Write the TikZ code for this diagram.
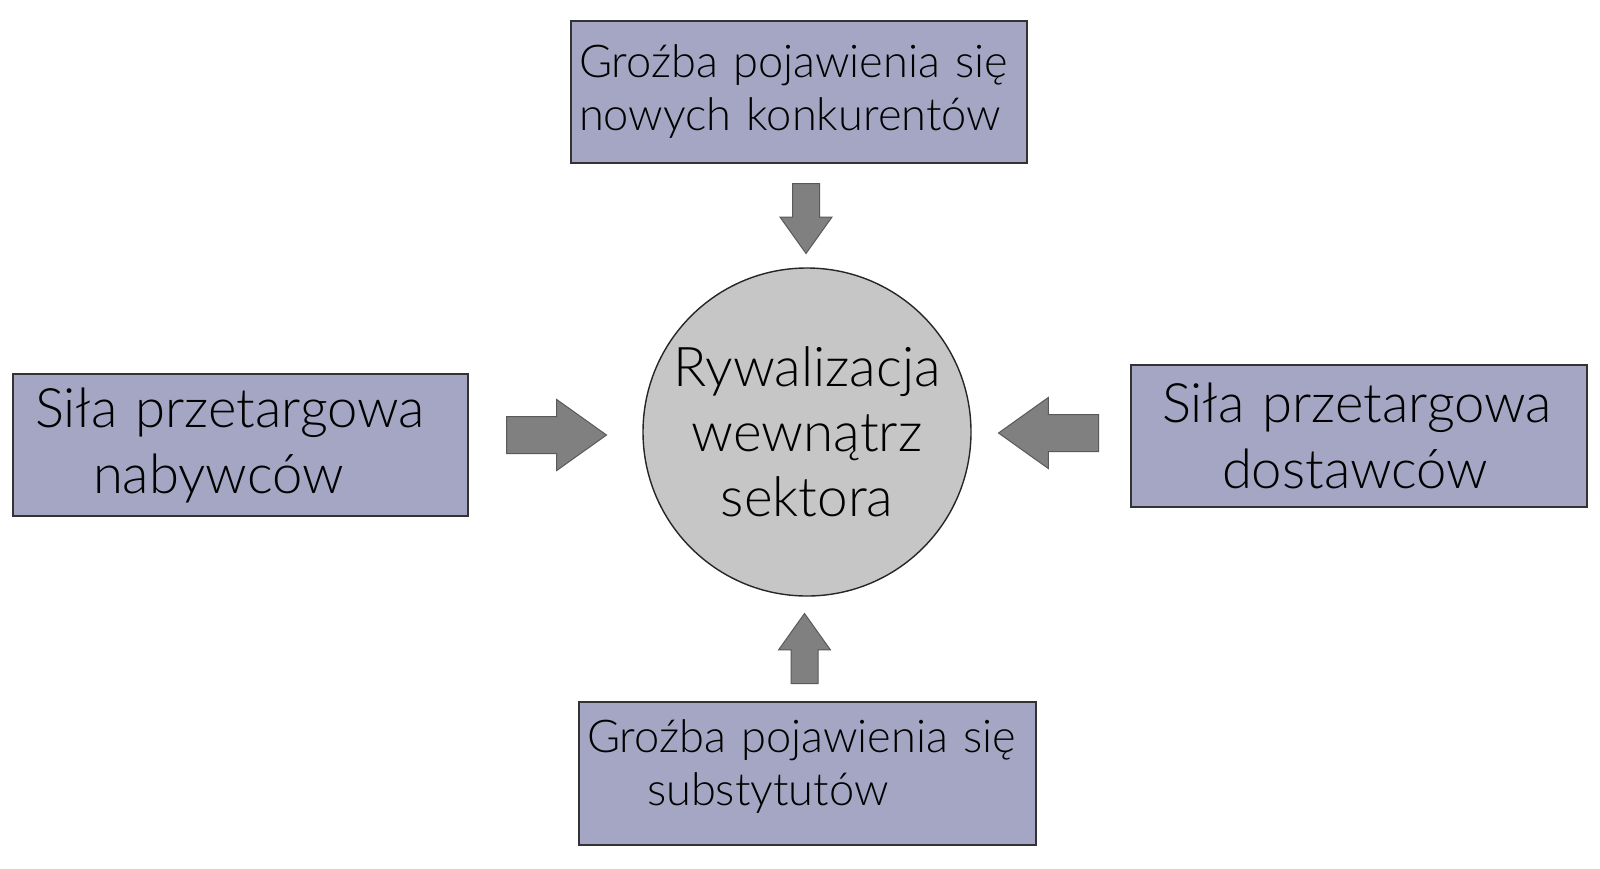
\documentclass[tikz,border=0pt]{standalone}
\usepackage{fontspec}
\setmainfont{Lato Light}
\usetikzlibrary{shapes.arrows}
\definecolor{boxgray}{RGB}{165,166,196}
\definecolor{hubgray}{RGB}{198,198,198}
\definecolor{arrgray}{RGB}{128,128,128}
\tikzstyle{force}=[rectangle, draw=black!80, fill=boxgray, line width=0.7pt, align=left, minimum height=71pt, inner ysep=0pt]
\tikzstyle{rival}=[circle, draw=black!85, fill=hubgray, line width=0.7pt, minimum size=164pt, inner sep=0pt, align=center]
\tikzstyle{push}=[single arrow, draw=black!65, fill=arrgray, line width=0.5pt, inner xsep=0pt, single arrow tip angle=71, single arrow head indent=0pt, anchor=tail]
\tikzstyle{hpush}=[push, minimum height=50pt, minimum width=35pt, inner ysep=9pt, single arrow head extend=8.5pt]
\tikzstyle{vpush}=[push, minimum height=35pt, minimum width=25.5pt, inner ysep=6.5pt, single arrow head extend=6.25pt]
\newcommand{\force}{\node[force]}
\newcommand{\push}{\node}
\newcommand{\tailfix}{\rule[-10.5pt]{0pt}{0pt}}

\begin{document}
\begin{tikzpicture}[x=0.5pt, y=-0.5pt
  ,smalltxt/.style={font=\fontsize{22.6pt}{26.5pt}\selectfont}
  ,bigtxt/.style={font=\fontsize{27.2pt}{33pt}\selectfont}
]
\useasboundingbox (0,0) rectangle (1600,868);
\force[smalltxt, inner xsep=4pt, text width=220pt] (a) at (799,92)
  {\mbox{Groźba pojawienia się}\\\mbox{nowych konkurentów}};
\force[bigtxt, inner xsep=11pt, text width=205.5pt] (b) at (240.5,445)
  {\mbox{Siła przetargowa}\\\hspace*{29pt}nabywców};
\force[bigtxt, inner xsep=15.5pt, text width=197pt] (c) at (1359,436)
  {\mbox{Siła przetargowa}\\\hspace*{30pt}dostawców};
\force[smalltxt, inner xsep=4pt, text width=220.5pt, minimum height=71.5pt] (d) at (807.5,773.5)
  {\mbox{Groźba pojawienia się}\\\hspace*{30pt}substytutów\tailfix};
\node[rival, font=\fontsize{27.4pt}{32.5pt}\selectfont] (r) at (807,432)
  {Rywalizacja\\wewnątrz\\sektora};
% arrows towards the centre, placed by their tails
\push[vpush, rotate=-90] (ta) at (806,183) {};
\push[hpush] (la) at (506,435) {};
\push[hpush, rotate=180] (ra) at (1099,433) {};
\push[vpush, rotate=90] (ba) at (804.5,684) {};
\end{tikzpicture}
\end{document}
